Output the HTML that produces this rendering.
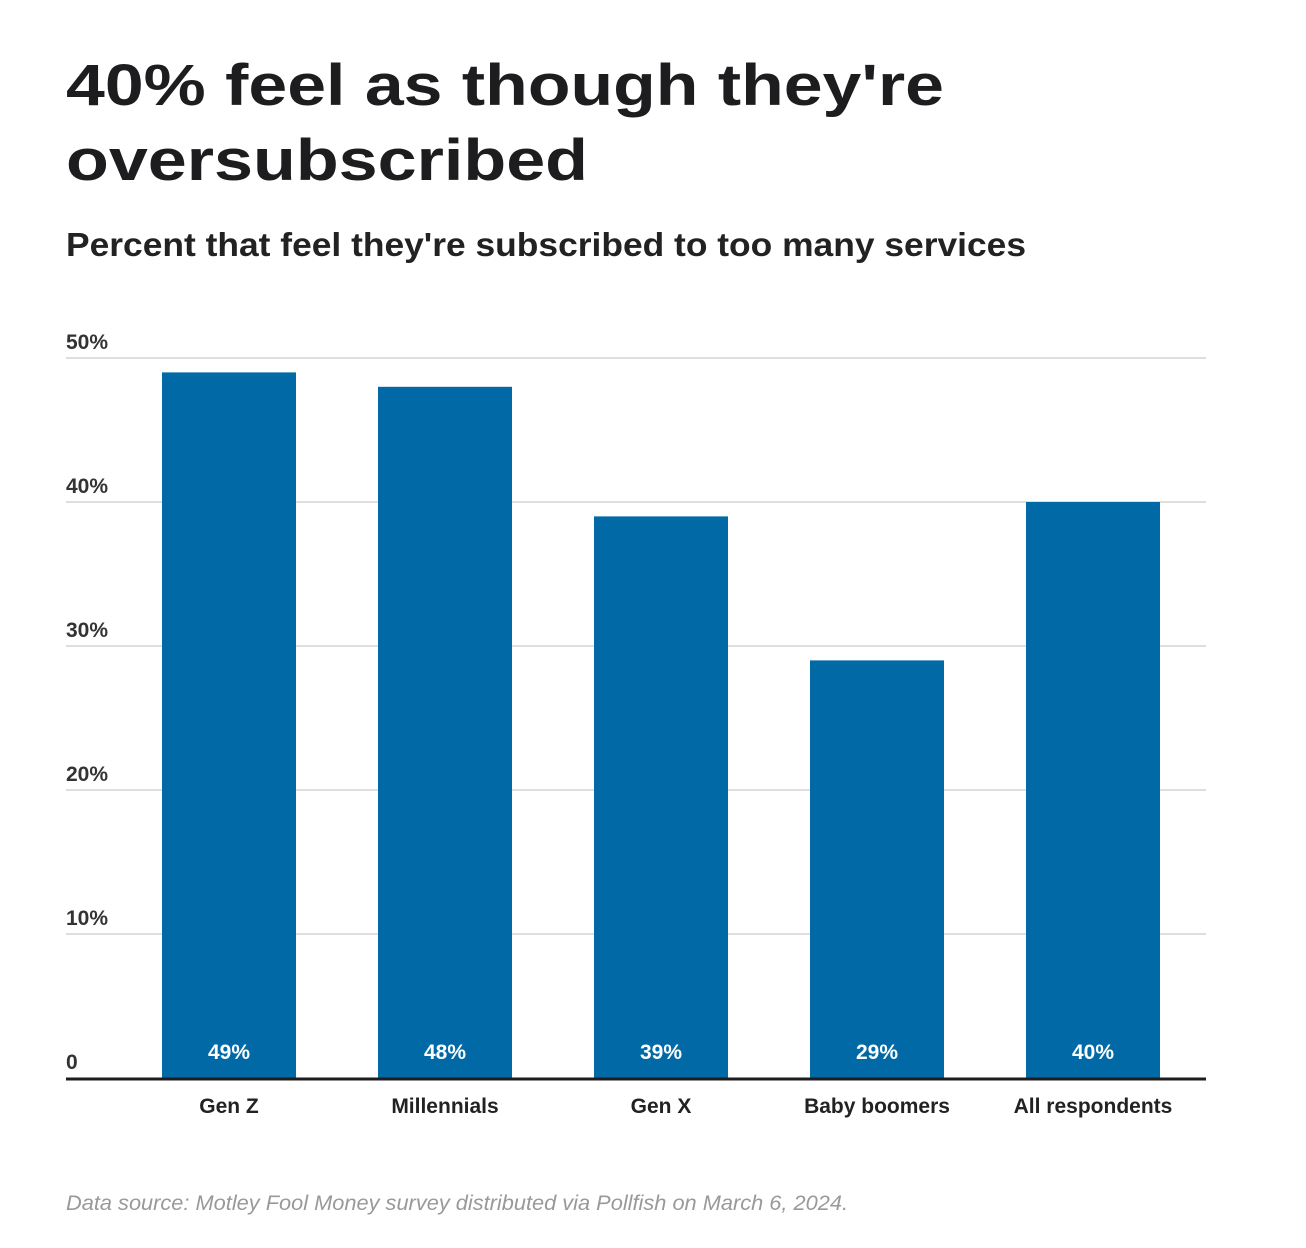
<!DOCTYPE html>
<html><head><meta charset="utf-8"><style>
html,body{margin:0;padding:0;background:#fff;}
svg{display:block;font-family:"Liberation Sans",sans-serif;}
</style></head><body>
<svg id="chart" width="1306" height="1248" viewBox="0 0 1306 1248" xmlns="http://www.w3.org/2000/svg">
<text x="66" y="105" font-size="58" font-weight="bold" fill="#1d1d1f" textLength="878" lengthAdjust="spacingAndGlyphs">40% feel as though they're</text>
<text x="66" y="180" font-size="58" font-weight="bold" fill="#1d1d1f" textLength="522" lengthAdjust="spacingAndGlyphs">oversubscribed</text>
<text x="66" y="256" font-size="33" font-weight="bold" fill="#222" textLength="960" lengthAdjust="spacingAndGlyphs">Percent that feel they're subscribed to too many services</text>
<g id="grid"></g>
<g id="bars"></g>
<g id="labels"></g>
<line x1="66" x2="1206" y1="1079" y2="1079" stroke="#1d1d1f" stroke-width="3"/>
<text x="66" y="1210" font-size="21" font-style="italic" fill="#999" textLength="782" lengthAdjust="spacingAndGlyphs">Data source: Motley Fool Money survey distributed via Pollfish on March 6, 2024.</text>
</svg>
<script>
const categories = ["Gen Z","Millennials","Gen X","Baby boomers","All respondents"];
const values = [49,48,39,29,40];
const ticks = [0,10,20,30,40,50];
const tickLabels = ["0","10%","20%","30%","40%","50%"];
const NS="http://www.w3.org/2000/svg";
const y0=1078, pxPer=14.4;
const y=v=>y0-v*pxPer;
const bandStart=121, band=216, barW=134;
const xc=i=>bandStart+band*i+band/2;
function mk(tag,attrs,parent,text){const e=document.createElementNS(NS,tag);for(const k in attrs)e.setAttribute(k,attrs[k]);if(text!==undefined)e.textContent=text;parent.appendChild(e);return e;}
const grid=document.getElementById('grid'),bars=document.getElementById('bars'),labels=document.getElementById('labels');
ticks.forEach((t,i)=>{
  if(t>0){const l=mk('line',{x1:66,x2:1206,y1:y(t),y2:y(t),stroke:'#d4d4d4','stroke-width':1.5},grid);
  
  }
  const tx=mk('text',{x:66,y:y(t)-9,'font-size':21,'font-weight':'bold',fill:'#333'},labels,tickLabels[i]);
  
  
});
categories.forEach((c,i)=>{
  const r=mk('rect',{x:xc(i)-barW/2,y:y(values[i]),width:barW,height:values[i]*pxPer,fill:'#0069a6'},bars);
  
  
  const v=mk('text',{x:xc(i),y:1059,'font-size':21,'font-weight':'bold',fill:'#fff','text-anchor':'middle'},labels,values[i]+'%');
  
  
  const cl=mk('text',{x:xc(i),y:1113,'font-size':21,'font-weight':'bold',fill:'#222','text-anchor':'middle'},labels,c);
  
  
});
</script>
</body></html>
